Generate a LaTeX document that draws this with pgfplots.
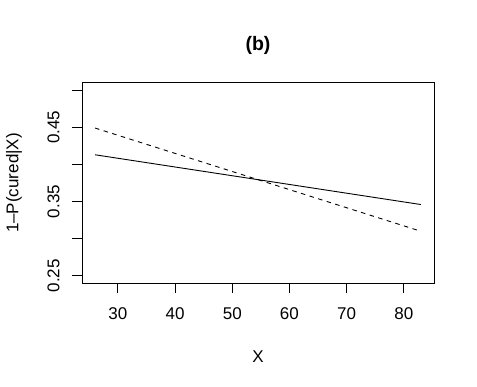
\documentclass[border=0pt]{standalone}
\usepackage{fontspec}
\setmainfont{Liberation Sans}
\usepackage{pgfplots}
\pgfplotsset{compat=1.18}

\begin{document}
\begin{tikzpicture}[x=1pt,y=1pt]
\begin{axis}[
    at={(0,0)}, anchor=south west,
    scale only axis,
    width=352pt, height=200.6pt,
    xmin=23.72, xmax=85.28,
    ymin=0.24, ymax=0.51,
    font=\fontsize{17}{20}\selectfont,
    axis line style={line width=0.9pt},
    tick style={line width=0.9pt, black},
    tick align=outside,
    major tick length=10pt,
    xtick={30,40,50,60,70,80},
    xticklabels={30,40,50,60,70,80},
    ytick={0.25,0.30,0.35,0.40,0.45,0.50},
    yticklabels={0.25,,0.35,,0.45,},
    xtick pos=bottom, ytick pos=left,
    xticklabel style={anchor=center, yshift=-20pt},
    yticklabel style={rotate=90, anchor=center, yshift=18.5pt},
    title={\bfseries (b)},
    title style={at={(axis description cs:0.5,1)}, anchor=center, yshift=31.7pt, font=\fontsize{19.5}{22}\selectfont},
    xlabel={X},
    xlabel style={at={(axis description cs:0.5,0)}, anchor=center, yshift=-73pt},
    ylabel={1\textendash P(cured|X)},
    ylabel style={at={(axis description cs:-0.1932,0.5)}, anchor=center, rotate=0},
]
% solid curve
\addplot[black, line width=0.9pt] coordinates {(26,0.413) (83,0.346)};
% dashed curve
\addplot[black, line width=0.9pt, dash pattern=on 4.5pt off 4.5pt] coordinates {(26,0.449) (83,0.310)};
\end{axis}
\path[use as bounding box] (-82,-102.7) rectangle (395,283.3);
\end{tikzpicture}
\end{document}
